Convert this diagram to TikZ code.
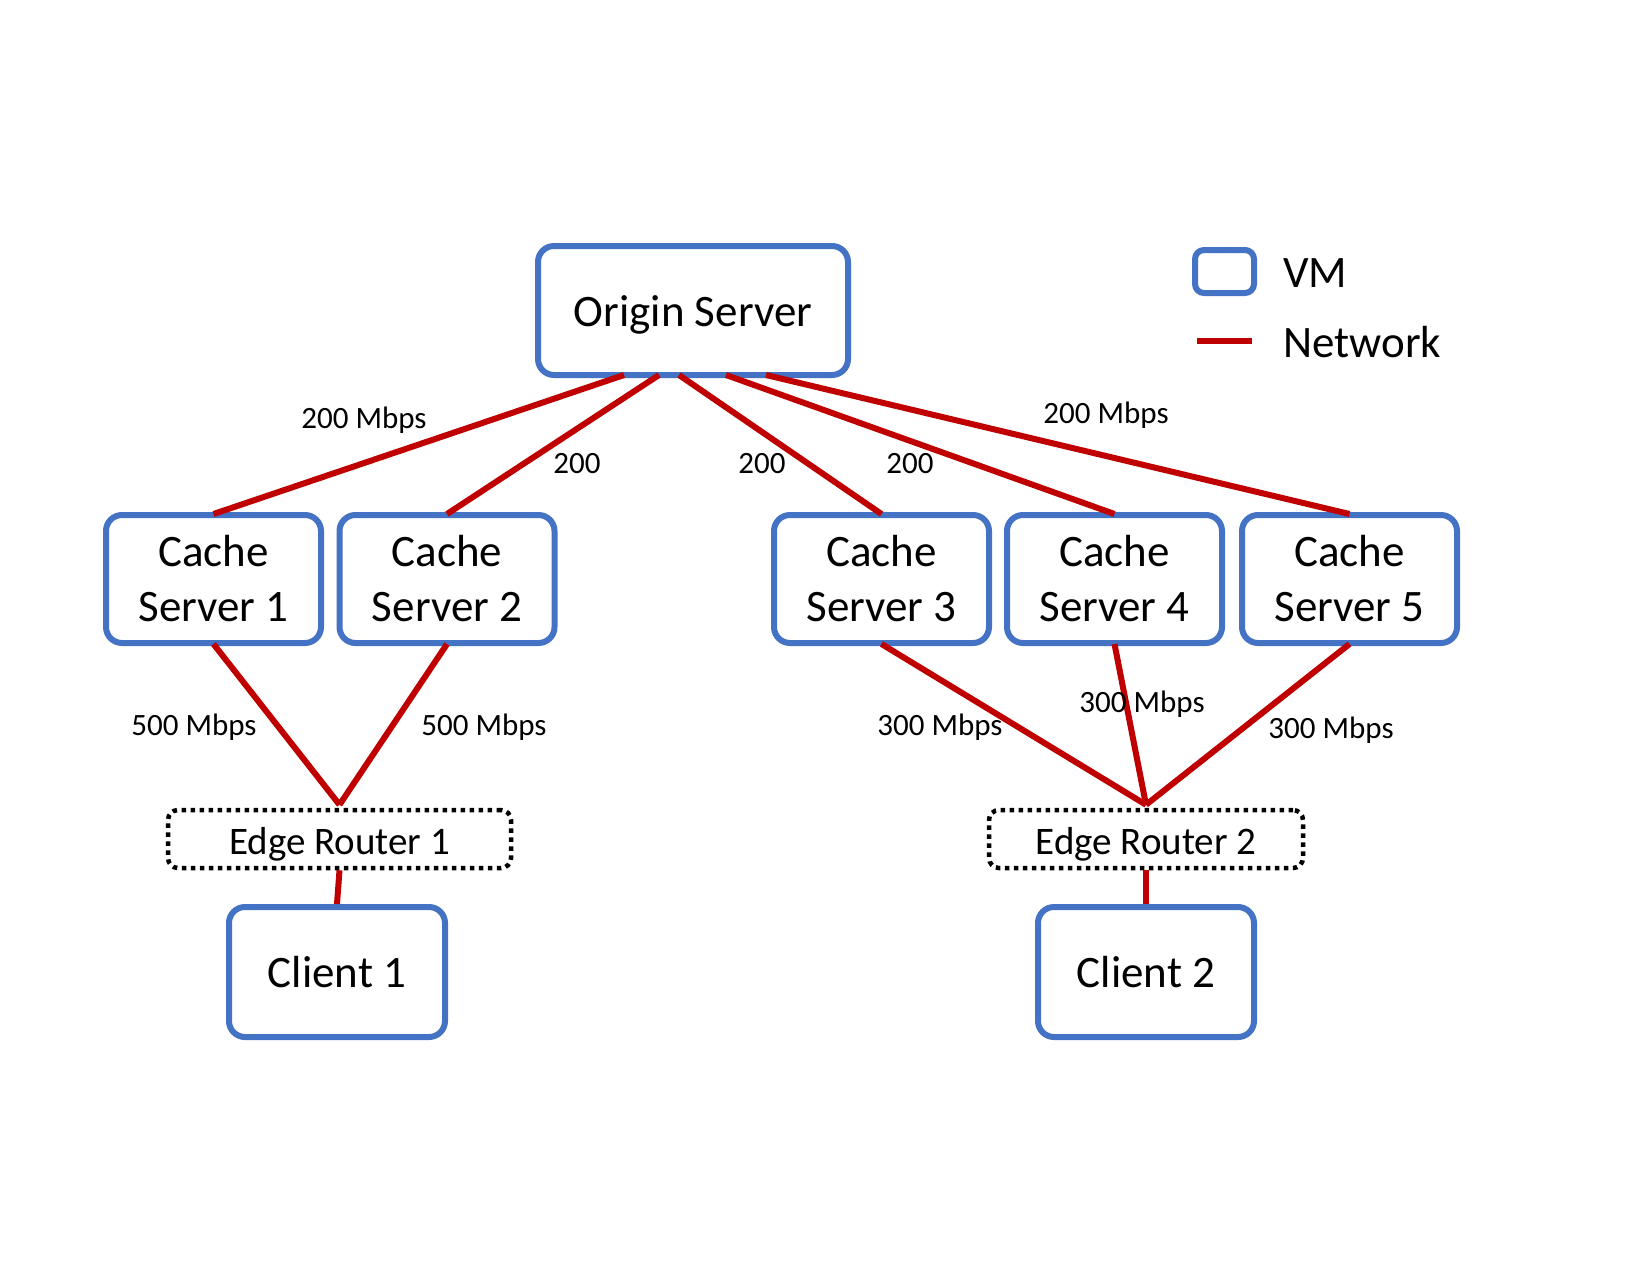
\documentclass[tikz,border=0pt]{standalone}
\usepackage{fontspec}
\setmainfont{Carlito}
\usetikzlibrary{calc}
\definecolor{vmblue}{HTML}{4472C4}
\definecolor{netred}{HTML}{C00000}
\newcommand{\lowertext}[2]{\raisebox{0pt}[\dimexpr\height+#1\relax]{#2}}
\begin{document}
\begin{tikzpicture}[x=1pt,y=-1pt,
  vm/.style={draw=vmblue,line width=6pt,rounded corners=16pt,align=center,
    font=\fontsize{45}{55}\selectfont,inner sep=0pt},
  router/.style={draw=black,line width=4.5pt,dash pattern=on 4.5pt off 4.5pt,rounded corners=10pt,
    minimum height=58pt,inner sep=0pt,font=\fontsize{39}{47}\selectfont},
  net/.style={draw=netred,line width=6pt},
  lbl/.style={font=\fontsize{31}{38}\selectfont,inner sep=0pt}]
\useasboundingbox[fill=white] (0,0) rectangle (1650,1275);
% VMs
\node[vm,minimum width=310pt,minimum height=129pt] (origin) at (693,310.5) {\lowertext{8.5pt}{Origin Server}};
\node[vm,minimum width=215pt,minimum height=128pt] (c1) at (213.5,579) {Cache\\Server 1};
\node[vm,minimum width=215pt,minimum height=128pt] (c2) at (447,579) {Cache\\Server 2};
\node[vm,minimum width=215pt,minimum height=128pt] (c3) at (881.5,579) {Cache\\Server 3};
\node[vm,minimum width=215pt,minimum height=128pt] (c4) at (1114.5,579) {Cache\\Server 4};
\node[vm,minimum width=215pt,minimum height=128pt] (c5) at (1349.5,579) {Cache\\Server 5};
\node[vm,minimum width=216pt,minimum height=130pt] (cl1) at (337,972) {Client 1};
\node[vm,minimum width=216pt,minimum height=130pt] (cl2) at (1146,972) {Client 2};
% routers
\node[router,minimum width=343pt] (r1) at (339.5,839) {\lowertext{10.5pt}{Edge Router 1}};
\node[router,minimum width=314pt] (r2) at (1146,839) {\lowertext{10.5pt}{Edge Router 2}};
% origin to caches
\draw[net] ([xshift=-69pt,yshift=3pt]origin.south) -- ([yshift=-2pt]c1.north);
\draw[net] ([xshift=-34pt,yshift=3pt]origin.south) -- ([yshift=-2pt]c2.north);
\draw[net] ([xshift=-14pt,yshift=3pt]origin.south) -- ([yshift=-2pt]c3.north);
\draw[net] ([xshift=33pt,yshift=3pt]origin.south) -- ([yshift=-2pt]c4.north);
\draw[net] ([xshift=73pt,yshift=3pt]origin.south) -- ([yshift=-2pt]c5.north);
% caches to routers
\draw[net] ([yshift=2pt]c1.south) -- ([yshift=3pt]r1.north);
\draw[net] ([yshift=2pt]c2.south) -- ([yshift=3pt]r1.north);
\draw[net] ([yshift=2pt]c3.south) -- ([yshift=3pt]r2.north);
\draw[net] ([yshift=2pt]c4.south) -- ([yshift=3pt]r2.north);
\draw[net] ([yshift=2pt]c5.south) -- ([yshift=3pt]r2.north);
% routers to clients
\draw[net] (r1.south) -- (cl1.north);
\draw[net] (r2.south) -- (cl2.north);
% labels
\node[lbl] (l1) at (364,420) {200 Mbps};
\node[lbl] (l2) at (577,464) {200};
\node[lbl] (l3) at (762,464) {200};
\node[lbl] (l4) at (910,464) {200};
\node[lbl] (l5) at (1106,415) {200 Mbps};
\node[lbl] (l6) at (194,727) {500 Mbps};
\node[lbl] (l7) at (484,727) {500 Mbps};
\node[lbl] (l8) at (940,727) {300 Mbps};
\node[lbl] (l9) at (1142,704) {300 Mbps};
\node[lbl] (l10) at (1331,730) {300 Mbps};
% legend
\node[draw=vmblue,line width=6pt,rounded corners=9pt,minimum width=59pt,minimum height=43pt,inner sep=0pt] (legvm) at (1224.5,271.5) {};
\coordinate (legA) at (1197,341);
\coordinate (legB) at (1252,341);
\draw[net] (legA) -- (legB);
\node[anchor=west,inner sep=0pt,font=\fontsize{45}{55}\selectfont] (legvmt) at (1283,273) {VM};
\node[anchor=west,inner sep=0pt,font=\fontsize{45}{55}\selectfont] (legnett) at (1283,342) {Network};
\end{tikzpicture}
\end{document}
